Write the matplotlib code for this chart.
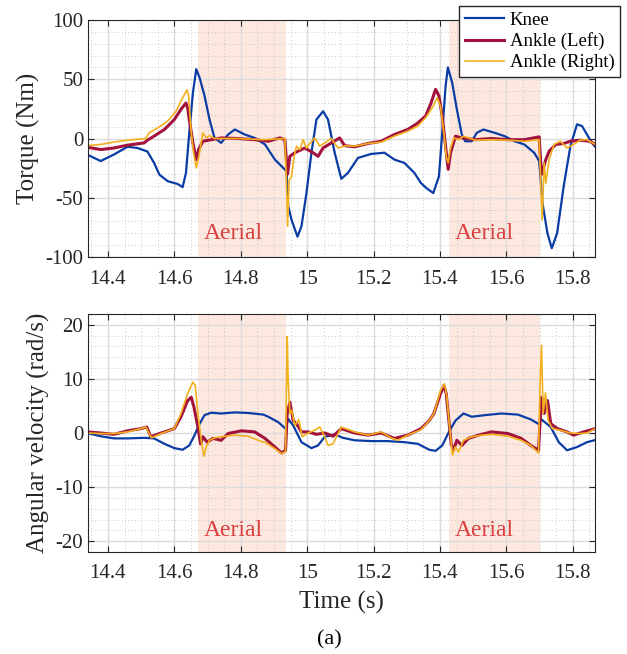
import matplotlib
matplotlib.use("Agg")
import matplotlib.pyplot as plt
from matplotlib.ticker import FormatStrFormatter, MultipleLocator
import numpy as np

plt.rcParams["font.family"] = ["Liberation Serif", "DejaVu Serif"]
plt.rcParams["axes.unicode_minus"] = False

# ---- torque (Nm) ----
KNEE_TQ_T = [14.337, 14.378, 14.418, 14.459, 14.489, 14.519, 14.539, 14.555, 14.58, 14.61,
             14.625, 14.635, 14.645, 14.656, 14.666, 14.676, 14.691, 14.706, 14.721, 14.741,
             14.762, 14.782, 14.812, 14.842, 14.873, 14.903, 14.928, 14.938, 14.943, 14.953,
             14.971, 14.983, 14.998, 15.013, 15.028, 15.048, 15.063, 15.083, 15.103, 15.123,
             15.153, 15.193, 15.233, 15.263, 15.293, 15.323, 15.343, 15.36, 15.38, 15.397,
             15.407, 15.417, 15.424, 15.437, 15.451, 15.466, 15.476, 15.496, 15.511, 15.531,
             15.565, 15.595, 15.625, 15.654, 15.684, 15.699, 15.709, 15.724, 15.737, 15.753,
             15.773, 15.793, 15.813, 15.828, 15.843, 15.858, 15.868]
KNEE_TQ = [-13.5, -19, -13.5, -7, -8, -11, -20.6, -30.5, -36, -38.4,
           -41, -29, 5, 38.7, 58.5, 51.4, 36, 16, 0.5, -3.7,
           3.4, 7.6, 3.4, 0.5, -5, -17.8, -24.8, -27.7, -57, -68.6,
           -82.8, -74, -46, -12, 16, 23, 16, -12, -34, -29,
           -16.4, -13, -12, -17.8, -20.6, -29, -37.6, -42, -46, -32,
           4.8, 44, 60, 47, 24.6, 3.4, -2.3, -2.3, 4.8, 7.6,
           4.8, 2, -2.3, -5, -12, -19, -54.5, -80, -92.6, -80,
           -40, -6.5, 12, 10.5, 3.4, -3.7, -7]

LEFT_TQ_T = [14.337, 14.378, 14.418, 14.459, 14.509, 14.519, 14.539, 14.57, 14.6, 14.62,
             14.635, 14.64, 14.645, 14.656, 14.666, 14.673, 14.686, 14.711, 14.741, 14.792,
             14.842, 14.883, 14.918, 14.933, 14.938, 14.941, 14.948, 14.963, 14.993, 15.018,
             15.033, 15.048, 15.073, 15.098, 15.113, 15.143, 15.183, 15.223, 15.263, 15.303,
             15.333, 15.357, 15.372, 15.387, 15.397, 15.407, 15.417, 15.425, 15.432, 15.447,
             15.466, 15.506, 15.555, 15.605, 15.654, 15.699, 15.704, 15.707, 15.719, 15.729,
             15.749, 15.773, 15.793, 15.822, 15.852, 15.868]
LEFT_TQ = [-7.3, -9.3, -8, -5.6, -3.7, -1.4, 2, 7.6, 16, 24.6,
           30, 26, 16, -3.7, -17.8, -9.3, -2.3, -1, 0.5, 0,
           -1, -2.3, 0.5, -1, -20, -30, -15, -12, -8, -12,
           -15, -8, -3.7, 0.5, -6, -7, -4.2, -2.3, 3.4, 7.6,
           13, 19, 29, 41.5, 36, 19, -6.5, -26, -12, 2,
           0.5, -1, 0, -1, -1, 1.4, -22, -30, -17.8, -10.7,
           -5, -4.2, -2.3, -1.4, -2.3, -5]

RIGHT_TQ_T = [14.337, 14.378, 14.418, 14.459, 14.514, 14.524, 14.55, 14.58, 14.605, 14.625,
              14.638, 14.643, 14.65, 14.658, 14.666, 14.674, 14.686, 14.696, 14.706, 14.721,
              14.792, 14.868, 14.933, 14.938, 14.941, 14.946, 14.953, 14.961, 14.968, 14.978,
              14.988, 14.998, 15.008, 15.023, 15.038, 15.053, 15.073, 15.093, 15.118, 15.143,
              15.183, 15.223, 15.263, 15.303, 15.333, 15.357, 15.377, 15.392, 15.402, 15.412,
              15.419, 15.425, 15.432, 15.442, 15.456, 15.471, 15.506, 15.555, 15.605, 15.654,
              15.699, 15.704, 15.708, 15.714, 15.719, 15.729, 15.744, 15.763, 15.783, 15.803,
              15.822, 15.843, 15.868]
RIGHT_TQ = [-6, -5, -3, -1.4, 0, 4.8, 9, 14.7, 23, 34.4,
            41, 36, 7.6, -12, -24.8, -15, 4.8, 0.5, 2.5, 0,
            0, -1, 0, -40, -74, -35, -32, -15, -6.5, -9.3,
            -1, -8, -4.2, 0.5, -6.5, -3.7, 0, -8, -6, -6.5,
            -4.2, -3, 2, 6.2, 10.5, 17.5, 26, 34.4, 27, 4.8,
            -15, -20.6, -8, 0.5, -1, 2, -1.4, -1, -1.4, -2.3,
            -1, -40, -68.6, -20.6, -37.6, -17.8, -5, -2.3, -8, -5,
            -1.4, -1, -5]

# ---- angular velocity (rad/s) ----
KNEE_VEL_T = [14.337, 14.378, 14.418, 14.459, 14.509, 14.539, 14.57, 14.6, 14.625, 14.645,
              14.661, 14.676, 14.691, 14.711, 14.741, 14.782, 14.822, 14.868, 14.883, 14.913,
              14.935, 14.943, 14.958, 14.983, 15.013, 15.033, 15.053, 15.083, 15.108, 15.143,
              15.193, 15.243, 15.293, 15.333, 15.368, 15.387, 15.407, 15.427, 15.447, 15.471,
              15.496, 15.536, 15.585, 15.635, 15.674, 15.699, 15.704, 15.734, 15.758, 15.783,
              15.813, 15.843, 15.868]
KNEE_VEL = [0, -0.6, -1, -1, -0.9, -1, -2, -2.8, -3.1, -2.3,
            -0.4, 1.7, 3.3, 3.75, 3.6, 3.8, 3.7, 3.4, 3, 2,
            0.8, 2.6, 1.4, -1.7, -2.8, -2.3, -0.7, -0.25, -0.9, -1.35,
            -1.5, -1.5, -1.7, -2, -3.1, -3.3, -2.3, 0.2, 2.3, 3.6,
            3, 3.3, 3.6, 3.4, 2.5, 1.6, 2.6, 1.1, -1.7, -3.2,
            -2.6, -1.7, -1.3]

LEFT_VEL_T = [14.337, 14.378, 14.418, 14.459, 14.499, 14.517, 14.529, 14.56, 14.6, 14.62,
              14.64, 14.651, 14.659, 14.671, 14.679, 14.686, 14.699, 14.716, 14.741, 14.762,
              14.802, 14.842, 14.873, 14.903, 14.923, 14.935, 14.94, 14.948, 14.958, 14.968,
              14.983, 15.003, 15.028, 15.053, 15.078, 15.103, 15.143, 15.183, 15.223, 15.263,
              15.303, 15.343, 15.368, 15.382, 15.402, 15.412, 15.419, 15.427, 15.434, 15.441,
              15.451, 15.466, 15.486, 15.516, 15.555, 15.605, 15.645, 15.674, 15.697, 15.702,
              15.707, 15.714, 15.724, 15.734, 15.754, 15.783, 15.803, 15.833, 15.868]
LEFT_VEL = [0.2, 0, -0.25, 0.4, 0.8, 1.1, -0.7, 0, 0.8, 3,
            6, 6.6, 4.8, 1.1, -2, -0.7, -1.7, -1, -1.35, -0.1,
            0.4, 0.2, -1, -2.6, -3.7, -3.2, 3.6, 5.7, 2.3, 1.7,
            0.2, 0.2, -0.25, 0, -0.6, 0.8, 0, -0.4, 0, -1,
            -0.4, 0.8, 2.3, 3.6, 7.3, 8.8, 7.3, 2.3, -2, -3.2,
            -1.35, -2.3, -1, -0.4, 0.2, -0.1, -1, -2.3, -3.2, 2.3,
            6.6, 3.6, 6, 1.7, 0.8, 0.2, -0.4, 0.2, 0.8]

RIGHT_VEL_T = [14.337, 14.378, 14.418, 14.459, 14.499, 14.514, 14.524, 14.531, 14.56, 14.6,
               14.62, 14.64, 14.656, 14.663, 14.671, 14.681, 14.689, 14.696, 14.706, 14.721,
               14.741, 14.782, 14.822, 14.868, 14.873, 14.903, 14.923, 14.935, 14.94, 14.943,
               14.948, 14.953, 14.963, 14.975, 14.985, 15.003, 15.023, 15.038, 15.053, 15.063,
               15.078, 15.103, 15.143, 15.183, 15.223, 15.253, 15.273, 15.303, 15.343, 15.368,
               15.382, 15.402, 15.414, 15.421, 15.429, 15.438, 15.446, 15.456, 15.471, 15.496,
               15.526, 15.555, 15.605, 15.645, 15.674, 15.697, 15.702, 15.706, 15.711, 15.718,
               15.726, 15.739, 15.763, 15.793, 15.823, 15.843, 15.868]
RIGHT_VEL = [0, -0.1, -0.1, 0.2, 0.8, 1.1, -0.1, -0.9, -0.1, 0.8,
             3.6, 7.3, 9.4, 8.8, 3.6, -1.35, -4.3, -2.6, -1.35, -0.9,
             -0.7, -0.4, -0.6, -1.7, -1.7, -2.9, -3.8, -3.5, 17.8, 9.7,
             3.6, 4.2, 1.4, 2.5, -0.7, 0, 0.5, 1.1, -0.7, -2.3,
             -2, 1.1, 0.2, -0.4, 0.2, -0.9, -1.35, -0.4, 0.6, 2.3,
             3.6, 7.9, 9.1, 6.6, 1.1, -4.1, -2.6, -3.5, -1.35, -0.7,
             -0.4, -0.25, -0.6, -1.35, -2.3, -3.7, 9.7, 16.2, 3.6, 7.4,
             2.3, 0.8, 0.5, 0, -0.1, 0, 0.8]

AERIAL_SPANS = [(14.671, 14.936), (15.426, 15.700)]
LABELS = ["Knee", "Ankle (Left)", "Ankle (Right)"]
COLORS = ["#0a3ca5", "#a3123c", "#f2b01e"]
WIDTHS = [1.6, 2.2, 1.2]

XLIM = (14.34, 15.868)


def style_axes(ax, ylim, ymajor, yminor):
    ax.set_xlim(*XLIM)
    ax.set_ylim(*ylim)
    ax.xaxis.set_major_locator(MultipleLocator(0.2))
    ax.xaxis.set_minor_locator(MultipleLocator(0.05))
    ax.xaxis.set_major_formatter(FormatStrFormatter("%g"))
    ax.yaxis.set_major_locator(MultipleLocator(ymajor))
    ax.yaxis.set_minor_locator(MultipleLocator(yminor))
    ax.set_axisbelow(True)
    ax.grid(which="major", color="0.86", linewidth=1.0)
    ax.grid(which="minor", color="0.72", linestyle=(0, (1, 3)), linewidth=0.6)
    ax.tick_params(which="both", direction="in", top=True, right=True,
                   labelsize=15, colors="#262626", length=4)
    ax.tick_params(axis="x", which="major", pad=9)
    ax.tick_params(which="minor", length=0)
    for spine in ax.spines.values():
        spine.set_color("#262626")
        spine.set_linewidth(0.8)
    for start, end in AERIAL_SPANS:
        ax.axvspan(start, end, color="#fde8e0", zorder=0.2, linewidth=0)


fig = plt.figure(figsize=(6.27, 6.54), dpi=100)
ax_tq = fig.add_axes([0.1404, 0.607, 0.809, 0.3624])
ax_vel = fig.add_axes([0.1404, 0.156, 0.809, 0.3639])

style_axes(ax_tq, (-100, 100), 50, 10)
style_axes(ax_vel, (-22, 22), 10, 2)

tq_series = [(KNEE_TQ_T, KNEE_TQ), (LEFT_TQ_T, LEFT_TQ), (RIGHT_TQ_T, RIGHT_TQ)]
vel_series = [(KNEE_VEL_T, KNEE_VEL), (LEFT_VEL_T, LEFT_VEL), (RIGHT_VEL_T, RIGHT_VEL)]
for (t, y), label, color, lw in zip(tq_series, LABELS, COLORS, WIDTHS):
    ax_tq.plot(t, y, color=color, linewidth=lw, label=label, zorder=2)
for (t, y), color, lw in zip(vel_series, COLORS, WIDTHS):
    ax_vel.plot(t, y, color=color, linewidth=lw, zorder=2)

for start, _ in AERIAL_SPANS:
    ax_tq.text(start + 0.018, -80, "Aerial", color="#d9403f", fontsize=17,
               va="center", ha="left")
    ax_vel.text(start + 0.018, -18, "Aerial", color="#d9403f", fontsize=17,
                va="center", ha="left")

ax_tq.set_ylabel("Torque (Nm)", fontsize=18, color="#262626", labelpad=4)
ax_vel.set_ylabel("Angular velocity (rad/s)", fontsize=18, color="#262626", labelpad=4)
ax_vel.set_xlabel("Time (s)", fontsize=18, color="#262626", labelpad=5)

leg = ax_tq.legend(loc="upper left", bbox_to_anchor=(0.732, 0.991),
                   bbox_transform=fig.transFigure, fontsize=13.5, frameon=True,
                   fancybox=False, framealpha=1, edgecolor="#262626",
                   handlelength=2.1, handletextpad=0.3, labelspacing=0.2,
                   borderpad=0.3, borderaxespad=0)
leg.get_frame().set_linewidth(1.0)

fig.text(0.525, 0.021, "(a)", fontsize=16, ha="center", va="center")

fig.savefig("out.png", dpi=100)
